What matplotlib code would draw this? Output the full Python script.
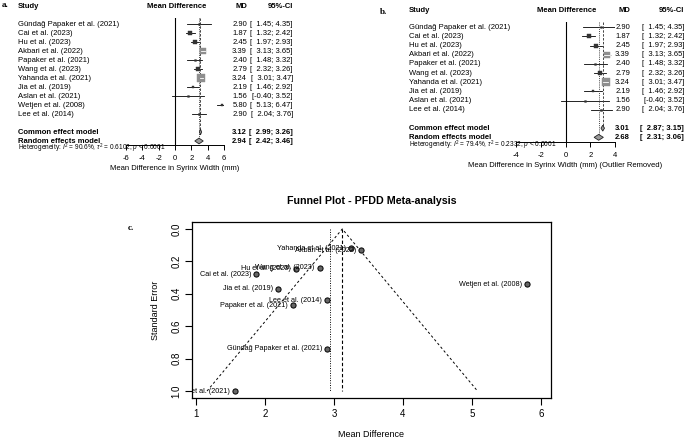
import matplotlib
matplotlib.use("Agg")
import matplotlib.pyplot as plt
import matplotlib.transforms as mtransforms
from matplotlib.patches import Polygon

plt.rcParams['font.family'] = ['Liberation Sans', 'DejaVu Sans']
plt.rcParams['mathtext.fontset'] = 'custom'
plt.rcParams['mathtext.rm'] = 'Liberation Sans'
plt.rcParams['mathtext.it'] = 'Liberation Sans:italic'
plt.rcParams['axes.unicode_minus'] = False

W, H = 685, 440

# datos de los estudios
estudios = ["Gündağ Papaker et al. (2021)", "Cai et al. (2023)", "Hu et al. (2023)",
            "Akbari et al. (2022)", "Papaker et al. (2021)", "Wang et al. (2023)",
            "Yahanda et al. (2021)", "Jia et al. (2019)", "Aslan et al. (2021)",
            "Wetjen et al. (2008)", "Lee et al. (2014)"]
md = [2.90, 1.87, 2.45, 3.39, 2.40, 2.79, 3.24, 2.19, 1.56, 5.80, 2.90]
ci_inf = [1.45, 1.32, 1.97, 3.13, 1.48, 2.32, 3.01, 1.46, -0.40, 5.13, 2.04]
ci_sup = [4.35, 2.42, 2.93, 3.65, 3.32, 3.26, 3.47, 2.92, 3.52, 6.47, 3.76]
se = [0.74, 0.28, 0.245, 0.13, 0.47, 0.24, 0.12, 0.37, 1.00, 0.34, 0.44]

# panel a: todos los estudios
comun_a = (3.12, 2.99, 3.26)
aleatorio_a = (2.94, 2.42, 3.46)
het_a = r"Heterogeneity: $I^2$ = 90.6%, $\tau^2$ = 0.6102, $p$ < 0.0001"
ticks_a = [-6, -4, -2, 0, 2, 4, 6]

# panel b: sin el outlier
excluido = "Wetjen et al. (2008)"
comun_b = (3.01, 2.87, 3.15)
aleatorio_b = (2.68, 2.31, 3.06)
het_b = r"Heterogeneity: $I^2$ = 79.4%, $\tau^2$ = 0.2332, $p$ < 0.0001"
ticks_b = [-4, -2, 0, 2, 4]

# funnel
funnel_ticks_x = [1, 2, 3, 4, 5, 6]
funnel_ticks_y = [0.0, 0.2, 0.4, 0.6, 0.8, 1.0]

FS = 5.5


def caja_px(left, top, right, bottom):
    return [left / W, 1 - bottom / H, (right - left) / W, (bottom - top) / H]


def forest(fig, caja, y0, paso, filas, comun, aleatorio, het, ticks, xlabel, cols, y_header):
    left, top, right, bottom = caja
    ax = fig.add_axes(caja_px(*caja))
    ax.patch.set_visible(False)
    ax.set_xlim(ticks[0], ticks[-1])
    ax.set_ylim((bottom - y0) / paso, (top - y0) / paso)
    for s in ['top', 'left', 'right']:
        ax.spines[s].set_visible(False)
    ax.spines['bottom'].set_bounds(ticks[0], ticks[-1])
    ax.spines['bottom'].set_linewidth(0.7)
    ax.set_yticks([])
    ax.set_xticks(ticks)
    ax.tick_params(axis='x', length=3.5, width=0.7, pad=3.5, labelsize=FS)
    ax.set_xlabel(xlabel, fontsize=FS, labelpad=2.5)

    tr = mtransforms.blended_transform_factory(fig.transFigure, ax.transData)
    x_study, x_md, x_ci, x_centro = cols

    # encabezados
    yh = (y_header - y0) / paso
    ax.text(x_study / W, yh, "Study", transform=tr, fontsize=FS, fontweight='bold', va='center')
    ax.text(x_centro / W, yh, "Mean Difference", transform=tr, fontsize=FS, fontweight='bold',
            va='center', ha='center')
    ax.text(x_md / W, yh, "MD", transform=tr, fontsize=FS, fontweight='bold', va='center', ha='right')
    ax.text(x_ci / W, yh, "95%-CI", transform=tr, fontsize=FS, fontweight='bold', va='center', ha='right')

    ax.axvline(0, color='black', lw=0.8)

    n = len(filas)
    for i, k in enumerate(filas):
        m, lo, hi, s = md[k], ci_inf[k], ci_sup[k], se[k]
        ax.plot([lo, hi], [i, i], color='black', lw=0.6, zorder=2)
        lado = max(0.85 / s, 1.8)
        if lado >= 5:
            ax.plot(m, i, marker='s', ms=lado * 0.72, mfc='#8e8e8e', mec='#8e8e8e', mew=0.3, zorder=3)
            ancho = lado / ((right - left) / (ticks[-1] - ticks[0])) / 2
            ax.plot([max(lo, m - ancho), min(hi, m + ancho)], [i, i], color='white', lw=0.6, zorder=4)
        else:
            ax.plot(m, i, marker='s', ms=lado * 0.72, mfc='#333333', mec='#333333', mew=0.3, zorder=3)
        ax.text(x_study / W, i, estudios[k], transform=tr, fontsize=FS, va='center')
        ax.text(x_md / W, i, f"{m:.2f}", transform=tr, fontsize=FS, va='center', ha='right')
        ax.text(x_ci / W, i, f"[{lo:5.2f}; {hi:4.2f}]".replace("[ ", "[  "), transform=tr,
                fontsize=FS, va='center', ha='right')

    fila_c, fila_r = n + 1, n + 2
    tope = (top - y0) / paso
    ax.vlines(comun[0], tope, fila_c, color='#444444', lw=0.7, linestyles=(0, (2.5, 1.5)))
    ax.vlines(aleatorio[0], tope, fila_r, color='#444444', lw=0.7, linestyles=(0, (1, 1.2)))
    for fila, (c, lo, hi), nombre in [(fila_c, comun, "Common effect model"),
                                       (fila_r, aleatorio, "Random effects model")]:
        rombo = Polygon([[lo, fila], [c, fila - 0.32], [hi, fila], [c, fila + 0.32]],
                        closed=True, facecolor='#9a9a9a', edgecolor='#222222', lw=0.6, zorder=4)
        ax.add_patch(rombo)
        ax.text(x_study / W, fila, nombre, transform=tr, fontsize=FS, fontweight='bold', va='center')
        ax.text(x_md / W, fila, f"{c:.2f}", transform=tr, fontsize=FS, fontweight='bold',
                va='center', ha='right')
        ax.text(x_ci / W, fila, f"[{lo:5.2f}; {hi:4.2f}]".replace("[ ", "[  "), transform=tr,
                fontsize=FS, fontweight='bold', va='center', ha='right')
    ax.text(x_study / W, fila_r + 0.85, het, transform=tr, fontsize=4.7, va='center')
    return ax


fig = plt.figure(figsize=(W / 100, H / 100), dpi=100)

# a. todos los estudios
filas_a = list(range(len(estudios)))
forest(fig, (126, 18, 224, 145), 24, 9.0, filas_a, comun_a, aleatorio_a, het_a, ticks_a,
       "Mean Difference in Syrinx Width (mm)", (18, 247, 293, 177), 6)
fig.text(2 / W, 1 - 5 / H, "a.", fontsize=6.5, fontweight='bold', family='Liberation Serif', va='center')

# b. sin outlier
filas_b = [k for k in range(len(estudios)) if estudios[k] != excluido]
forest(fig, (516, 22, 615, 142), 27.3, 9.17, filas_b, comun_b, aleatorio_b, het_b, ticks_b,
       "Mean Difference in Syrinx Width (mm) (Outlier Removed)", (409, 630, 684, 567), 10)
fig.text(380 / W, 1 - 12 / H, "b.", fontsize=6.5, fontweight='bold', family='Liberation Serif', va='center')

# c. funnel plot
axc = fig.add_axes(caja_px(192, 222, 551, 398))
axc.set_xlim(0.942, 6.145)
axc.set_ylim(1.043, -0.043)
se_max = max(se)
c = comun_a[0]
axc.plot([c - 1.96 * se_max, c, c + 1.96 * se_max], [se_max, 0, se_max], color='black',
         lw=0.7, linestyle=(0, (2.5, 2.5)))
axc.vlines(aleatorio_a[0], 0, se_max, color='black', lw=0.7, linestyles=(0, (1, 1.5)))
axc.vlines(c, 0, se_max, color='black', lw=0.8, linestyles=(0, (3, 2)))
axc.scatter(md, se, s=14, c='#666666', edgecolors='black', linewidths=0.7, zorder=3)
desplaza = mtransforms.ScaledTranslation(-3.5 / 72, 0, fig.dpi_scale_trans)
for nombre, m, s in zip(estudios, md, se):
    axc.text(m, s, nombre, transform=axc.transData + desplaza, fontsize=5.2, ha='right',
             va='center', clip_on=True)
axc.set_xticks(funnel_ticks_x)
axc.set_yticks(funnel_ticks_y)
axc.set_yticklabels([f"{v:.1f}" for v in funnel_ticks_y], rotation=90, va='center')
axc.tick_params(length=4.8, width=0.8, pad=3, labelsize=7)
for s in axc.spines.values():
    s.set_linewidth(0.9)
axc.set_xlabel("Mean Difference", fontsize=6.5, labelpad=8)
axc.set_ylabel("Standard Error", fontsize=6.5, labelpad=8)
fig.text(371.5 / W, 1 - 201 / H, "Funnel Plot - PFDD Meta-analysis", fontsize=7.7,
         fontweight='bold', ha='center', va='center')
fig.text(128 / W, 1 - 228 / H, "c.", fontsize=6.5, fontweight='bold', family='Liberation Serif', va='center')

fig.savefig("out.png", dpi=100)
